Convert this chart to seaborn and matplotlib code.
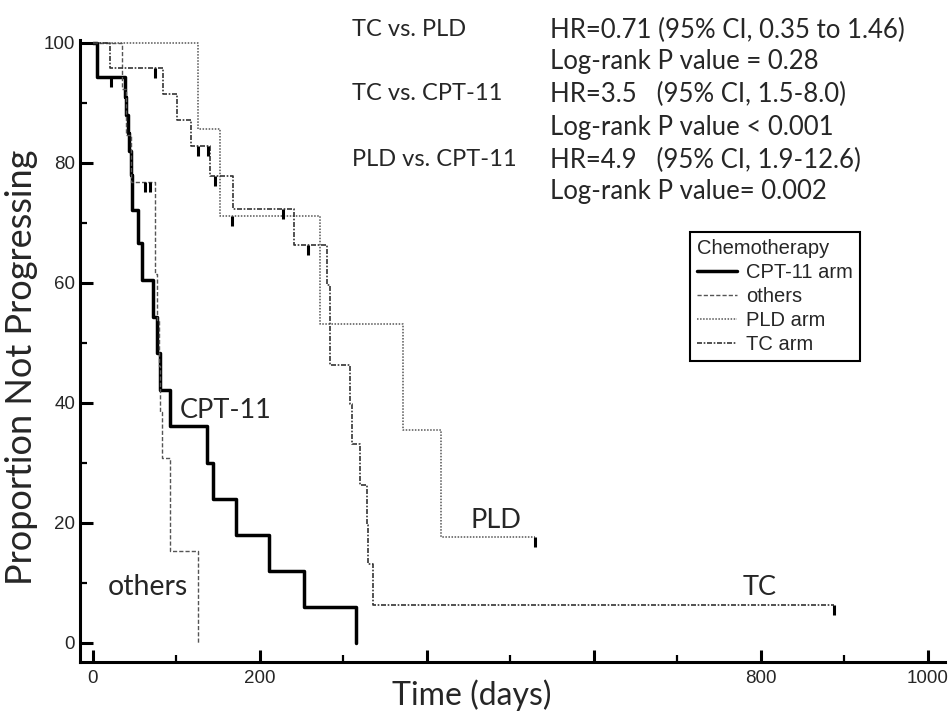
import matplotlib
matplotlib.use('Agg')
import matplotlib.pyplot as plt
import seaborn as sns
import pandas as pd
from matplotlib.path import Path

# Kaplan-Meier step curves (time in days, % not progressing)
cpt_time = [0, 5, 39, 40, 42, 44, 46, 47, 54, 59, 72, 77, 81, 93, 137, 144, 172, 211, 253, 315]
cpt_surv = [100, 94.3, 91, 88, 85, 82, 78, 72.2, 66.7, 60.5, 54.3, 48.3, 42.2, 36.1, 30, 24, 18, 12, 6, 0]
cpt_cens_time = [22]
cpt_cens_surv = [94.3]

oth_time = [0, 35, 40, 46, 75, 77, 79, 81, 83, 93, 126]
oth_surv = [100, 92.3, 84.6, 76.9, 61.5, 53.8, 46.2, 38.5, 30.8, 15.4, 0]
oth_cens_time = [63, 69]
oth_cens_surv = [76.9, 76.9]

pld_time = [0, 126, 153, 272, 372, 417, 530]
pld_surv = [100, 85.6, 71.2, 53.2, 35.5, 17.6, 17.6]
pld_cens_time = [167, 530]
pld_cens_surv = [71.2, 17.6]

tc_time = [0, 21, 84, 101, 118, 140, 168, 241, 281, 284, 308, 310, 320, 328, 330, 336, 887]
tc_surv = [100, 95.8, 91.5, 87.2, 82.8, 77.8, 72.4, 66.3, 59.7, 46.3, 39.8, 33.1, 26.4, 19.6, 13.1, 6.4, 6.4]
tc_cens_time = [75, 126, 138, 147, 228, 258, 887]
tc_cens_surv = [95.8, 82.8, 82.8, 77.8, 72.4, 66.3, 6.4]

arm_names = ['CPT-11 arm', 'others', 'PLD arm', 'TC arm']
curve_labels = ['CPT-11', 'others', 'PLD', 'TC']

stats_left = ['TC vs. PLD', '', 'TC vs. CPT-11', '', 'PLD vs. CPT-11', '']
stats_right = ['HR=0.71 (95% CI, 0.35 to 1.46)', 'Log-rank P value = 0.28',
               'HR=3.5   (95% CI, 1.5-8.0)', 'Log-rank P value < 0.001',
               'HR=4.9   (95% CI, 1.9-12.6)', 'Log-rank P value= 0.002']

sns.set_style('ticks')
plt.rcParams['font.family'] = ['Liberation Sans', 'DejaVu Sans']

fig = plt.figure(figsize=(9.51, 7.11), dpi=100)
ax = fig.add_axes([80 / 951, 1 - 662 / 711, 865 / 951, 622 / 711])

curves = [
    (cpt_time, cpt_surv, cpt_cens_time, cpt_cens_surv, 'black', 2.5, '-'),
    (oth_time, oth_surv, oth_cens_time, oth_cens_surv, '#555555', 1.0, (0, (3, 1.5))),
    (pld_time, pld_surv, pld_cens_time, pld_cens_surv, '#555555', 1.1, (0, (1, 1))),
    (tc_time, tc_surv, tc_cens_time, tc_cens_surv, '#333333', 1.2, (0, (3, 1, 1, 1))),
]

# censoring tick hanging below the curve
cens_marker = Path([(0, 0), (0, -1)], [Path.MOVETO, Path.LINETO])

for name, (t, s, ct, cs, col, lw, ls) in zip(arm_names, curves):
    df = pd.DataFrame({'time': t, 'surv': s})
    sns.lineplot(data=df, x='time', y='surv', estimator=None, sort=False,
                 drawstyle='steps-post', color=col, lw=lw, linestyle=ls,
                 label=name, ax=ax)
    ax.plot(ct, cs, linestyle='none', marker=cens_marker, ms=14, mew=2.2,
            mfc='none', mec='black')

ax.set_xlim(-15.2, 1020.5)
ax.set_ylim(-3.17, 100.5)

ax.set_xticks([0, 200, 400, 600, 800, 1000])
ax.set_xticklabels(['0', '200', '', '', '800', '1000'])
ax.set_xticks([100, 300, 500, 700, 900], minor=True)
ax.set_yticks([0, 20, 40, 60, 80, 100])
ax.set_yticks([10, 30, 50, 70, 90], minor=True)
ax.tick_params(which='major', direction='in', length=9, width=2.2, labelsize=13.5, color='black')
ax.tick_params(which='minor', direction='in', length=5, width=1.6, color='black')
ax.tick_params(axis='y', pad=3.5)
ax.tick_params(axis='x', pad=6)

sns.despine(ax=ax)
for side in ['left', 'bottom']:
    ax.spines[side].set_linewidth(2.2)
    ax.spines[side].set_color('black')

lato = ['Lato', 'DejaVu Sans']
ax.set_xlabel('Time (days)', fontsize=23, family=lato)
ax.set_ylabel('Proportion Not Progressing', fontsize=26, family=lato)
ax.xaxis.set_label_coords((472 - 80) / 865, -0.028)
ax.yaxis.set_label_coords(-0.048, 0.474)

# curve labels
ax.text(104, 37.5, curve_labels[0], fontsize=19.5, family=lato, va='baseline')
ax.text(18, 8, curve_labels[1], fontsize=20.5, family=lato, va='baseline')
ax.text(452, 19.2, curve_labels[2], fontsize=19.5, family=lato, va='baseline')
ax.text(778, 8, curve_labels[3], fontsize=19.5, family=lato, va='baseline')

# comparison statistics
row_y = [30, 61, 94, 127, 160, 192]
for yy, left, right in zip(row_y, stats_left, stats_right):
    fig.text(352 / 951, 1 - yy / 711, left, fontsize=17, family=lato, va='center')
    fig.text(550 / 951, 1 - yy / 711, right, fontsize=18.5, family=lato, va='center')

leg = ax.legend(title='Chemotherapy', loc='upper left',
                bbox_to_anchor=((690 - 80) / 865, (662 - 232) / 622),
                fontsize=14.5, title_fontsize=14.5, frameon=True, fancybox=False,
                framealpha=1, edgecolor='black', borderaxespad=0,
                handlelength=2.0, handletextpad=0.45, labelspacing=0.25,
                borderpad=0.35, alignment='left')
leg.get_frame().set_linewidth(1.5)

fig.savefig('out.png', dpi=100)
